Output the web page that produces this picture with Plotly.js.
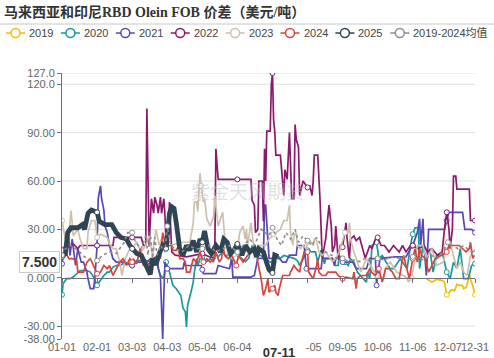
<!DOCTYPE html>
<html><head><meta charset="utf-8">
<script src="https://cdn.plot.ly/plotly-3.0.1.min.js"></script>
<style>html,body{margin:0;padding:0;background:#fff}#chart{width:494px;height:358px}</style>
</head><body><div id="chart"></div>
<script>
const tickDays = [0,31,62,93,124,155,186,217,248,279,310,341,365];
const tickLabels = ['01-01','02-01','03-03','04-03','05-04','06-04','','08-05','09-05','10-06','11-06','12-07','12-31'];
const yTickVals = [127,120,90,60,30,0,-30,-38];
const yTickText = ['127.0','120.0','90.00','60.00','30.00','0.000','-30.00','-38.00'];
const seriesNames = ['2019','2020','2021','2022','2023','2024','2025','2019-2024均值'];
const seriesColors = ['#F5BD00','#17999A','#5847B5','#8C1A6C','#CDC1AE','#D9433B','#2F4554','#8C8C8C'];

const days2019 = [322,325,327,331,334,336,338,339,340,342,344,347,349,351,354,355,357,358,360,361,363,365];
const vals2019 = [-0.6,-1.6,-2.7,-1.0,-1.6,-1.6,-2.7,-6,-10.5,-9.5,-7.5,-8,-4.0,-4.7,-4.7,-6.8,-6,-4.5,2.5,-1,-5,-10.5];

const days2020 = [0,1,4,7,10,13,16,22,25,28,31,34,37,40,42,45,48,51,54,57,62,66,75,78,84,85,87,90,92,95,98,101,103,105,107,109,110,111,114,116,117,119,120,122,124,128,131,134,135,138,142,145,148,150,153,157,162,165,168,172,175,184,187,190,193,196,205,208,210,215,217,221,224,226,229,232,233,239,241,244,245,250,253,255,258,261,264,269,270,272,274,278,280,283,290,293,299,305,308,310,312,315,316,319,322,325,328,331,336,340,343,346,349,352,355,359,362,365];
const vals2020 = [-10.5,-3.7,-0.6,-0.6,0.4,2.5,4.5,4.5,3.5,0.4,-4.7,-1.6,1.4,3.5,3.5,6.6,7.6,7.6,8.7,8.7,7.6,10.7,10.7,9.7,9.7,5.6,1.4,-0.6,9.7,3.5,-4.7,-6.8,-8.9,-11,-19,-21,-30.5,-17,-9,-2.7,3.5,11.8,7.6,11.8,13,10,11.8,9.7,16,13,16,13,16,9.7,9.7,13,10,12,20,14,14,9.7,9.7,14,12,13.8,12,10.7,7.6,14.8,17,16,16,9.7,17,8.7,11.8,11.8,7.6,7.6,13.8,9.7,7.6,11.8,9.7,3.5,1.4,-2.7,3.5,-0.6,20,22,11.8,13.8,5.6,5.6,11.8,5.6,20,27,31,31,5.6,20,9.7,18,3.5,13.8,16,3.5,-0.6,9.7,5.6,18,-0.6,-0.6,7.6,8.7];

const days2021 = [0,1,3,4,6,7,9,10,12,14,16,17,19,22,23,25,28,29,31,32,34,35,37,38,40,42,45,48,55,62,66,75,78,84,87,88,89,90,91,93,107,108,109,123,124,125,136,138,148,150,151,167,170,173,178,179,180,182,183,192,195,198,201,207,208,214,216,229,230,239,241,242,245,248,257,260,269,272,277,278,281,295,304,308,310,314,316,317,319,320,322,324,338,340,342,354,356,362,365];
const vals2021 = [8.7,13.8,20,25,25,13.8,24,18,7.6,18,11.8,9.7,9.7,3.5,-0.6,-6.8,-6.8,-0.6,20,49,57,49,42,32,28,20,11.8,9.7,9.7,7.6,9.7,9.7,11.8,9.7,0.4,-20,-38,-10,9.7,5.6,5.6,9.7,7.6,7.6,5,2.5,2.5,7.6,5.6,11.8,0.4,0.4,1.4,12,12,45,45,20,12,12,9.7,9.7,14,14,20,20,5.6,5.6,12,12,7.6,12,12,9.7,9.7,5.6,5.6,12,11.8,-4.7,12,13,13,18,20,28,36.5,20,36.5,20,1.4,30,30,35.5,40.6,40.6,30,30,28];

const days2022 = [0,1,3,7,10,14,16,31,45,46,62,70,72,74,75,76,77,79,81,82,84,85,87,88,90,91,92,94,95,97,100,110,124,130,135,136,138,155,167,168,170,171,173,174,177,178,179,180,181,184,185,186,187,188,189,193,194,196,197,199,201,203,205,206,207,209,210,213,215,217,219,221,222,223,226,228,230,233,236,238,239,241,242,244,246,248,251,252,254,255,258,260,263,266,268,270,272,274,277,279,282,285,289,293,298,301,304,308,310,315,320,323,327,332,336,338,340,342,343,345,346,348,349,360,361,365];
const vals2022 = [14,18,20,19,21,18,20,20,20,25,25,25,20,20,105,50,20,49,40,50,45,40,50,40,49,38.6,22,26,47,16,14,13,15,13,12,80,61,61,61,48,45,28,30,60,60,35,80,60,91,91,120,127,98,91,76,76,67,51,67,61,90,49,49,95,86,81,51,60,58,56,57,51,60,76,76,49,12,24,45,32,16,20,32,12,20,19,34,24,12,24,26,23,25,16,12,16,20,18,24,25,20,20,16,20,16,20,16,20,20,18,20,16,18,13.8,16,30,40.6,30,18,30,63,63,55,55,35.5,35.5];

const days2023 = [0,3,6,8,10,14,16,19,22,23,26,29,31,34,40,42,45,48,51,53,56,60,62,66,70,74,77,80,83,86,89,92,95,107,113,116,117,119,120,122,123,125,126,128,131,134,135,136,138,141,142,144,147,150,154,157,160,162,163,164,166,167,169,170,173,180,183,187,189,193,196,199,201,202,204,205,207,208,211,213,216,217,219,222,223,225,226,227,230,233,235,239,242,245,250,253,254,255,258,261,264,269,278,284,286,290,296,305,306,309,314,319,322,327,331,337,340,343,346,349,352,355,358,361,365];
const vals2023 = [35.5,24,26,41.6,26,30,24,18,18,28,35.5,35.5,25,27,25,21,18,18,9.7,1.4,11.8,18,18,22,16,20,26,14,30,20,26,20,20,22,22,34,47,47,41,65,57,47,49,36.5,32,38,51,43,32,38.6,40.6,24,14,12,12,28,32,24,30,20,28,34,22,12,20,20,24,27,28,30,35.5,35.5,45,28,20,26,28,20,18,20,18,22,23,20,24,23,20,16,14,16,14,10,12,16,28,28,34,24,16,10,3.5,11.8,1.4,-0.6,5.6,9.7,3.5,0,-2.7,0,20,20,11.8,18,7.6,9.7,20,22,13.8,5.6,9.7,3.5,1.4,13.8,16];

const days2024 = [0,1,6,9,13,14,19,22,25,28,31,34,37,40,42,45,48,51,54,57,60,62,63,66,69,70,72,75,78,81,84,87,89,92,97,98,101,103,104,107,109,110,113,116,119,122,125,128,131,134,136,139,141,142,144,147,150,154,156,160,164,167,172,173,175,176,178,179,180,182,183,186,188,189,191,192,194,195,201,202,205,207,210,211,214,217,218,222,225,226,227,230,233,235,242,244,248,251,257,258,260,261,264,269,272,274,277,280,283,286,289,292,295,298,301,302,304,307,310,312,314,316,318,321,324,327,330,335,340,342,351,357,360,361,363,365];
const vals2024 = [17,19,11.8,11.8,10.7,3.5,3.5,9.7,11.8,6.6,2.5,3.5,7.6,5.6,7.6,1.4,5.6,9.7,11.8,7.6,11.8,9.7,11.8,8.7,18,11.8,7.6,7.6,9.7,11.8,13.8,11.8,28,20,20,17,17,20,11.8,11.8,9.7,3.5,3.5,11.8,9.7,16,9.7,11.8,9.7,11.8,16,9.7,11.8,20,13.8,11.8,13.8,7.6,13.8,9.7,13.8,16,16,9.7,3.5,-0.6,-11,-9,-6.8,-0.6,-9,-6.8,-4.7,-9,-11,-6.8,-0.6,1.4,1.4,3.5,7.6,5.6,3.5,7.6,16,16,3.5,-0.6,7.6,11.8,3.5,1.4,1.4,3.5,3.5,1.4,-0.6,0.4,-0.6,3.5,-6.8,-0.6,1.4,1.4,5.6,3,1.4,5.6,-2.7,5.6,5.6,3.5,-0.6,-0.6,11.8,13.8,7.6,-0.6,11.8,18,9.7,18,13.8,11.8,3.5,7.6,11.8,13.8,16,20,20,16,18,22,12,15];

const days2025 = [0,3,5,8,14,18,20,23,26,31,33,38,44,48,52,57,60,62,66,70,75,78,80,83,86,89,92,95,97,99,101,104,107,110,113,116,119,122,124,126,129,132,136,140,143,146,149,152,155,159,162,166,170,172,174,178,181,183,186,188,191];
const vals2025 = [13,15,28,31,31,33,30,40,42,40.6,35,33,33,28,25,24,20,18,15,14,6,2,12,8,15,20,18,40,44,43,34,18,14,20,17,23,16,24,22,29,18,15,20,16,24,22,15,17,21,14,20,16,18,13,18,16,9,5,3,14,13];

const daysMean = [0,3,8,14,20,25,31,36,42,48,55,58,62,65,70,74,76,78,80,82,84,87,91,93,96,100,106,112,118,124,130,136,142,148,155,160,166,170,176,180,183,186,190,194,198,202,206,209,213,217,221,225,229,233,238,243,248,253,258,263,268,273,279,285,290,296,302,310,315,320,326,332,338,341,345,350,355,360,365];
const valsMean = [14,18,20,17,13,11,10.7,14,16,15,22,28,28,22,18,26,14,28,12,25,14,20,16,32,20,18,16,20,18,18,20,16,18,20,16,20,24,20,30,28,26,31,24,20,28,24,30,22,26,23,20,25,20,16,14,12,12,10,11,10,12,11,12,11,13,12,13,13,12,11,14,12,18,22,20,18,20,17,15];

const allDays = [days2019,days2020,days2021,days2022,days2023,days2024,days2025,daysMean];
const allVals = [vals2019,vals2020,vals2021,vals2022,vals2023,vals2024,vals2025,valsMean];

function markerOpacity(days){
  const op = days.map(()=>0);
  tickDays.forEach(t=>{
    let best=-1, bd=2.6;
    days.forEach((d,i)=>{const dd=Math.abs(d-t); if(dd<bd){bd=dd;best=i;}});
    if(best>=0) op[best]=1;
  });
  return op;
}

const traces = [];
allDays.forEach((days,i)=>{
  const isMean = i===7, is2025 = i===6;
  traces.push({
    x: days, y: allVals[i], type:'scatter', mode:'lines+markers', name: seriesNames[i],
    xaxis: isMean ? 'x2' : 'x',
    line:{color:seriesColors[i], width: is2025 ? 4.8 : (isMean ? 1.6 : 1.7), dash: isMean ? 'dot' : 'solid'},
    marker:{size:5, color:'#fff', opacity: markerOpacity(days), line:{color:seriesColors[i], width:1}},
    showlegend:false, hoverinfo:'skip'
  });
});

// plot area in pixels: left 62, width 413, bottom 339, height 266
const PL = 62, PW = 413, PB = 339, PH = 266;
const px = v => (v - PL) / PW;
const py = v => (PB - v) / PH;

const gridVals = yTickVals.filter(v => v!==0 && v!==-38);
const shapes = gridVals.map(v=>({type:'line', xref:'paper', yref:'y', x0:0, x1:1, y0:v, y1:v, line:{color:'#E0E0E0', width:1}, layer:'below'}));
shapes.push({type:'line', xref:'paper', yref:'paper', x0:px(0), x1:px(494), y0:py(24), y1:py(24), line:{color:'#C8C8C8', width:1}});

const annotations = [];
// custom legend row
seriesNames.forEach((n,i)=>{
  const s = 6 + i*54.9;
  const c = seriesColors[i];
  shapes.push({type:'line', xref:'paper', yref:'paper', x0:px(s), x1:px(s+19), y0:py(33), y1:py(33), line:{color:c, width:1.5}});
  shapes.push({type:'circle', xref:'paper', yref:'paper', xsizemode:'pixel', ysizemode:'pixel',
    xanchor:px(s+9.5), yanchor:py(33), x0:-4.5, x1:4.5, y0:-4.5, y1:4.5, fillcolor:'#fff', line:{color:c, width:1.5}});
  annotations.push({text:n, xref:'paper', yref:'paper', x:px(s+22), y:py(33), xanchor:'left', yanchor:'middle', showarrow:false,
    font:{size:11, color:'#444'}, borderpad:0});
});

annotations.push(
  {text:'紫金天风期货', xref:'paper', yref:'paper', x:0.45, y:0.56, showarrow:false, font:{size:19, color:'rgba(185,185,185,0.45)', family:'"Noto Sans CJK SC",sans-serif'}},
  {text:'<b>7.500</b>', xref:'paper', yref:'y', x:0, y:7.5, xanchor:'right', yanchor:'middle', xshift:-2, yshift:4, showarrow:false, font:{size:14, color:'#333'}, bgcolor:'#fff', bordercolor:'#ccc', borderwidth:1, borderpad:2},
  {text:'<b>07-11</b>', xref:'x', yref:'paper', x:192, y:py(352), yanchor:'middle', showarrow:false, font:{size:13, color:'#333'}, bgcolor:'#fff', width:50, height:16}
);

const layout = {
  width:494, height:358,
  margin:{l:62, r:19, t:73, b:19, pad:0},
  paper_bgcolor:'#fff', plot_bgcolor:'#fff',
  font:{family:'"Liberation Sans","Noto Sans CJK SC",sans-serif', size:11, color:'#666'},
  title:{text:'<b>马来西亚和印尼RBD Olein FOB 价差（美元/吨）</b>', xref:'container', yref:'container', x:0.008, xanchor:'left', y:1-12/358, yanchor:'middle',
    font:{family:'"Liberation Serif","Noto Sans CJK SC",serif', size:14, color:'#333'}},
  showlegend:false,
  xaxis:{range:[0,365], tickvals:tickDays, ticktext:tickLabels, tickangle:0, showgrid:false, zeroline:false, showline:false, ticks:'', tickfont:{size:11, color:'#666'}, fixedrange:true},
  xaxis2:{overlaying:'x', anchor:'free', position:38/165, range:[0,365], tickvals:tickDays, showticklabels:false, ticks:'outside', ticklen:4, tickcolor:'#6E7079', showline:true, linecolor:'#6E7079', linewidth:1, showgrid:false, zeroline:false, fixedrange:true},
  yaxis:{range:[-38,127], tickvals:yTickVals, ticktext:yTickText, showgrid:false, zeroline:false, showline:true, linecolor:'#6E7079', linewidth:1, ticks:'outside', ticklen:4, tickcolor:'#6E7079', tickfont:{size:11, color:'#666'}, fixedrange:true},
  shapes: shapes,
  annotations: annotations
};
Plotly.newPlot('chart', traces, layout, {displayModeBar:false, staticPlot:true});
</script></body></html>
